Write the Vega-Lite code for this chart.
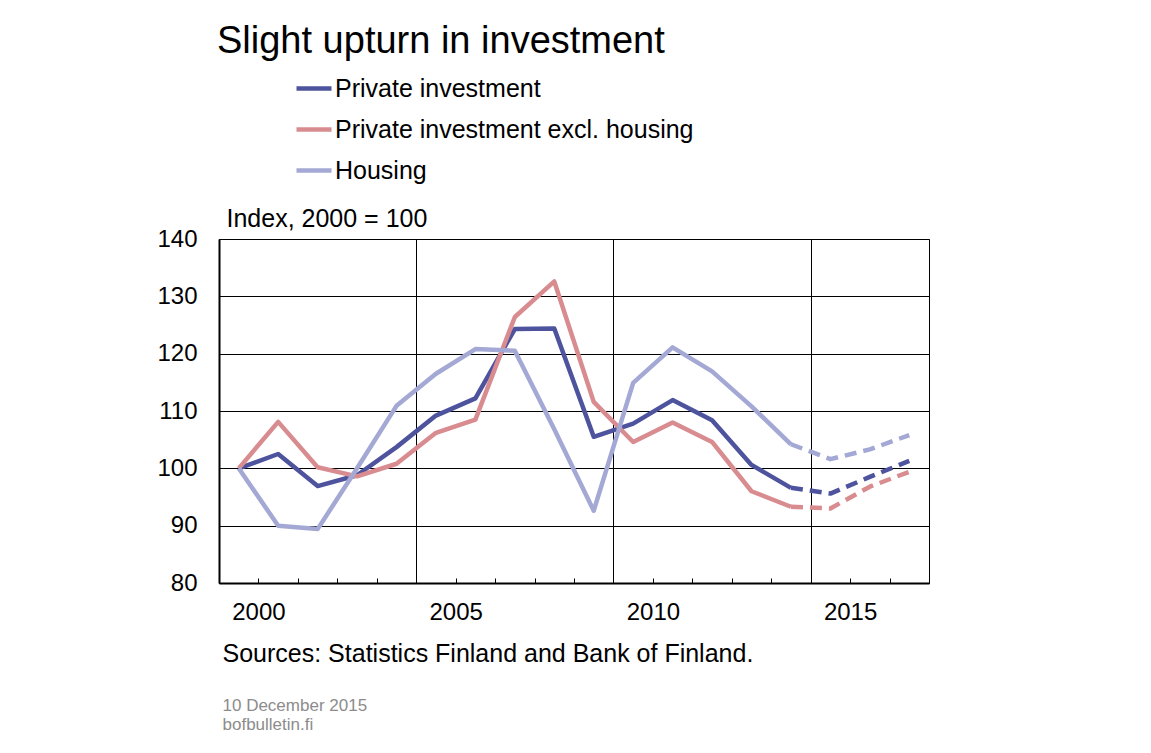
{
  "$schema": "https://vega.github.io/schema/vega-lite/v6.json",
  "width": 710,
  "height": 344,
  "autosize": "none",
  "padding": {"left": 219, "top": 239, "right": 222, "bottom": 170},
  "background": "white",
  "config": {
    "font": "Liberation Sans",
    "view": {"stroke": "black", "strokeWidth": 1},
    "axis": {"labelFont": "Liberation Sans", "titleFont": "Liberation Sans", "labelColor": "black", "titleColor": "black"},
    "legend": {"labelFont": "Liberation Sans"}
  },
  "title": {
    "text": "Slight upturn in investment",
    "font": "Liberation Sans",
    "fontSize": 38,
    "fontWeight": "normal",
    "color": "black",
    "anchor": "start",
    "frame": "group",
    "baseline": "alphabetic",
    "offset": -22,
    "dx": -2
  },
  "data": {
    "values": [
      {"year": 2000, "series": "Private investment", "kind": "actual", "value": 100},
      {"year": 2001, "series": "Private investment", "kind": "actual", "value": 102.5},
      {"year": 2002, "series": "Private investment", "kind": "actual", "value": 96.9},
      {"year": 2003, "series": "Private investment", "kind": "actual", "value": 98.8},
      {"year": 2004, "series": "Private investment", "kind": "actual", "value": 103.7},
      {"year": 2005, "series": "Private investment", "kind": "actual", "value": 109.2},
      {"year": 2006, "series": "Private investment", "kind": "actual", "value": 112.2},
      {"year": 2007, "series": "Private investment", "kind": "actual", "value": 124.3},
      {"year": 2008, "series": "Private investment", "kind": "actual", "value": 124.4},
      {"year": 2009, "series": "Private investment", "kind": "actual", "value": 105.5},
      {"year": 2010, "series": "Private investment", "kind": "actual", "value": 107.8},
      {"year": 2011, "series": "Private investment", "kind": "actual", "value": 111.9},
      {"year": 2012, "series": "Private investment", "kind": "actual", "value": 108.4},
      {"year": 2013, "series": "Private investment", "kind": "actual", "value": 100.6},
      {"year": 2014, "series": "Private investment", "kind": "actual", "value": 96.6},
      {"year": 2014, "series": "Private investment", "kind": "forecast", "value": 96.6},
      {"year": 2015, "series": "Private investment", "kind": "forecast", "value": 95.6},
      {"year": 2016, "series": "Private investment", "kind": "forecast", "value": 98.5},
      {"year": 2017, "series": "Private investment", "kind": "forecast", "value": 101.3},
      {"year": 2000, "series": "Private investment excl. housing", "kind": "actual", "value": 100},
      {"year": 2001, "series": "Private investment excl. housing", "kind": "actual", "value": 108.1},
      {"year": 2002, "series": "Private investment excl. housing", "kind": "actual", "value": 100.2},
      {"year": 2003, "series": "Private investment excl. housing", "kind": "actual", "value": 98.6},
      {"year": 2004, "series": "Private investment excl. housing", "kind": "actual", "value": 100.8},
      {"year": 2005, "series": "Private investment excl. housing", "kind": "actual", "value": 106.2},
      {"year": 2006, "series": "Private investment excl. housing", "kind": "actual", "value": 108.5},
      {"year": 2007, "series": "Private investment excl. housing", "kind": "actual", "value": 126.4},
      {"year": 2008, "series": "Private investment excl. housing", "kind": "actual", "value": 132.6},
      {"year": 2009, "series": "Private investment excl. housing", "kind": "actual", "value": 111.6},
      {"year": 2010, "series": "Private investment excl. housing", "kind": "actual", "value": 104.6},
      {"year": 2011, "series": "Private investment excl. housing", "kind": "actual", "value": 108.0},
      {"year": 2012, "series": "Private investment excl. housing", "kind": "actual", "value": 104.6},
      {"year": 2013, "series": "Private investment excl. housing", "kind": "actual", "value": 96.0},
      {"year": 2014, "series": "Private investment excl. housing", "kind": "actual", "value": 93.3},
      {"year": 2014, "series": "Private investment excl. housing", "kind": "forecast", "value": 93.3},
      {"year": 2015, "series": "Private investment excl. housing", "kind": "forecast", "value": 93.0},
      {"year": 2016, "series": "Private investment excl. housing", "kind": "forecast", "value": 96.8},
      {"year": 2017, "series": "Private investment excl. housing", "kind": "forecast", "value": 99.4},
      {"year": 2000, "series": "Housing", "kind": "actual", "value": 100},
      {"year": 2001, "series": "Housing", "kind": "actual", "value": 90.0},
      {"year": 2002, "series": "Housing", "kind": "actual", "value": 89.4},
      {"year": 2003, "series": "Housing", "kind": "actual", "value": 100.0},
      {"year": 2004, "series": "Housing", "kind": "actual", "value": 110.9},
      {"year": 2005, "series": "Housing", "kind": "actual", "value": 116.5},
      {"year": 2006, "series": "Housing", "kind": "actual", "value": 120.8},
      {"year": 2007, "series": "Housing", "kind": "actual", "value": 120.5},
      {"year": 2008, "series": "Housing", "kind": "actual", "value": 106.8},
      {"year": 2009, "series": "Housing", "kind": "actual", "value": 92.6},
      {"year": 2010, "series": "Housing", "kind": "actual", "value": 114.9},
      {"year": 2011, "series": "Housing", "kind": "actual", "value": 121.1},
      {"year": 2012, "series": "Housing", "kind": "actual", "value": 116.9},
      {"year": 2013, "series": "Housing", "kind": "actual", "value": 110.8},
      {"year": 2014, "series": "Housing", "kind": "actual", "value": 104.2},
      {"year": 2014, "series": "Housing", "kind": "forecast", "value": 104.2},
      {"year": 2015, "series": "Housing", "kind": "forecast", "value": 101.6},
      {"year": 2016, "series": "Housing", "kind": "forecast", "value": 103.3},
      {"year": 2017, "series": "Housing", "kind": "forecast", "value": 105.8}
    ]
  },
  "encoding": {
    "y": {
      "field": "value",
      "type": "quantitative",
      "scale": {"domain": [80, 140], "nice": false, "zero": false},
      "axis": {
        "values": [80, 90, 100, 110, 120, 130, 140],
        "grid": true,
        "gridColor": "black",
        "gridWidth": 1,
        "gridOpacity": 1,
        "ticks": false,
        "domain": true,
        "domainColor": "black",
        "domainWidth": 2,
        "labelFontSize": 24,
        "labelPadding": 22,
        "labelColor": "black",
        "title": "Index, 2000 = 100",
        "titleFontSize": 25,
        "titleFontWeight": "normal",
        "titleAngle": 0,
        "titleAlign": "left",
        "titleBaseline": "alphabetic",
        "titleX": 7,
        "titleY": -13
      }
    },
    "color": {
      "field": "series",
      "type": "nominal",
      "scale": {
        "domain": ["Private investment", "Private investment excl. housing", "Housing"],
        "range": ["#4E539E", "#D98C90", "#A4A8D4"]
      },
      "legend": {
        "title": null,
        "orient": "none",
        "legendX": 75,
        "legendY": -170.5,
        "symbolType": "stroke",
        "symbolSize": 1225,
        "symbolStrokeWidth": 4.5,
        "labelFontSize": 25,
        "labelColor": "black",
        "labelOffset": 1,
        "labelLimit": 600,
        "rowPadding": 8,
        "padding": 0
      }
    }
  },
  "resolve": {"axis": {"x": "independent"}},
  "layer": [
    {
      "transform": [{"filter": "datum.kind == 'actual'"}],
      "mark": {"type": "line", "strokeWidth": 4.5, "strokeJoin": "round"},
      "encoding": {
        "x": {
          "field": "year",
          "type": "quantitative",
          "scale": {"domain": [1999.5, 2017.5], "nice": false, "zero": false},
          "axis": {
            "values": [2000.5, 2001.5, 2002.5, 2003.5, 2004.5, 2005.5, 2006.5, 2007.5, 2008.5, 2009.5, 2010.5, 2011.5, 2012.5, 2013.5, 2014.5, 2015.5, 2016.5],
            "labelExpr": "floor(datum.value) % 5 == 0 ? toString(floor(datum.value)) : ''",
            "labelOverlap": false,
            "labelFlush": false,
            "labelBound": false,
            "labelFontSize": 24,
            "labelColor": "black",
            "labelPadding": 22,
            "grid": true,
            "gridColor": "black",
            "gridWidth": 1,
            "gridOpacity": {"condition": {"test": "floor(datum.value) % 5 == 4", "value": 1}, "value": 0},
            "ticks": true,
            "tickSize": -5,
            "tickColor": "black",
            "tickWidth": 1,
            "domain": true,
            "domainColor": "black",
            "domainWidth": 2,
            "title": "Sources: Statistics Finland and Bank of Finland.",
            "titleFontSize": 25,
            "titleFontWeight": "normal",
            "titleAlign": "left",
            "titleBaseline": "alphabetic",
            "titleX": 3,
            "titleY": 78
          }
        }
      }
    },
    {
      "transform": [{"filter": "datum.kind == 'forecast'"}],
      "mark": {"type": "line", "strokeWidth": 4.5, "strokeJoin": "round", "strokeDash": [12, 7]},
      "encoding": {
        "x": {
          "field": "year",
          "type": "quantitative",
          "scale": {"domain": [1999.5, 2017.5], "nice": false, "zero": false},
          "axis": {
            "orient": "bottom",
            "domain": false,
            "ticks": false,
            "labels": false,
            "grid": false,
            "title": ["10 December 2015", "bofbulletin.fi"],
            "titleFontSize": 17,
            "titleFontWeight": "normal",
            "titleColor": "#8C8C8C",
            "titleAlign": "left",
            "titleBaseline": "alphabetic",
            "titleLineHeight": 19,
            "titleX": 3,
            "titleY": 127
          }
        }
      }
    }
  ]
}
